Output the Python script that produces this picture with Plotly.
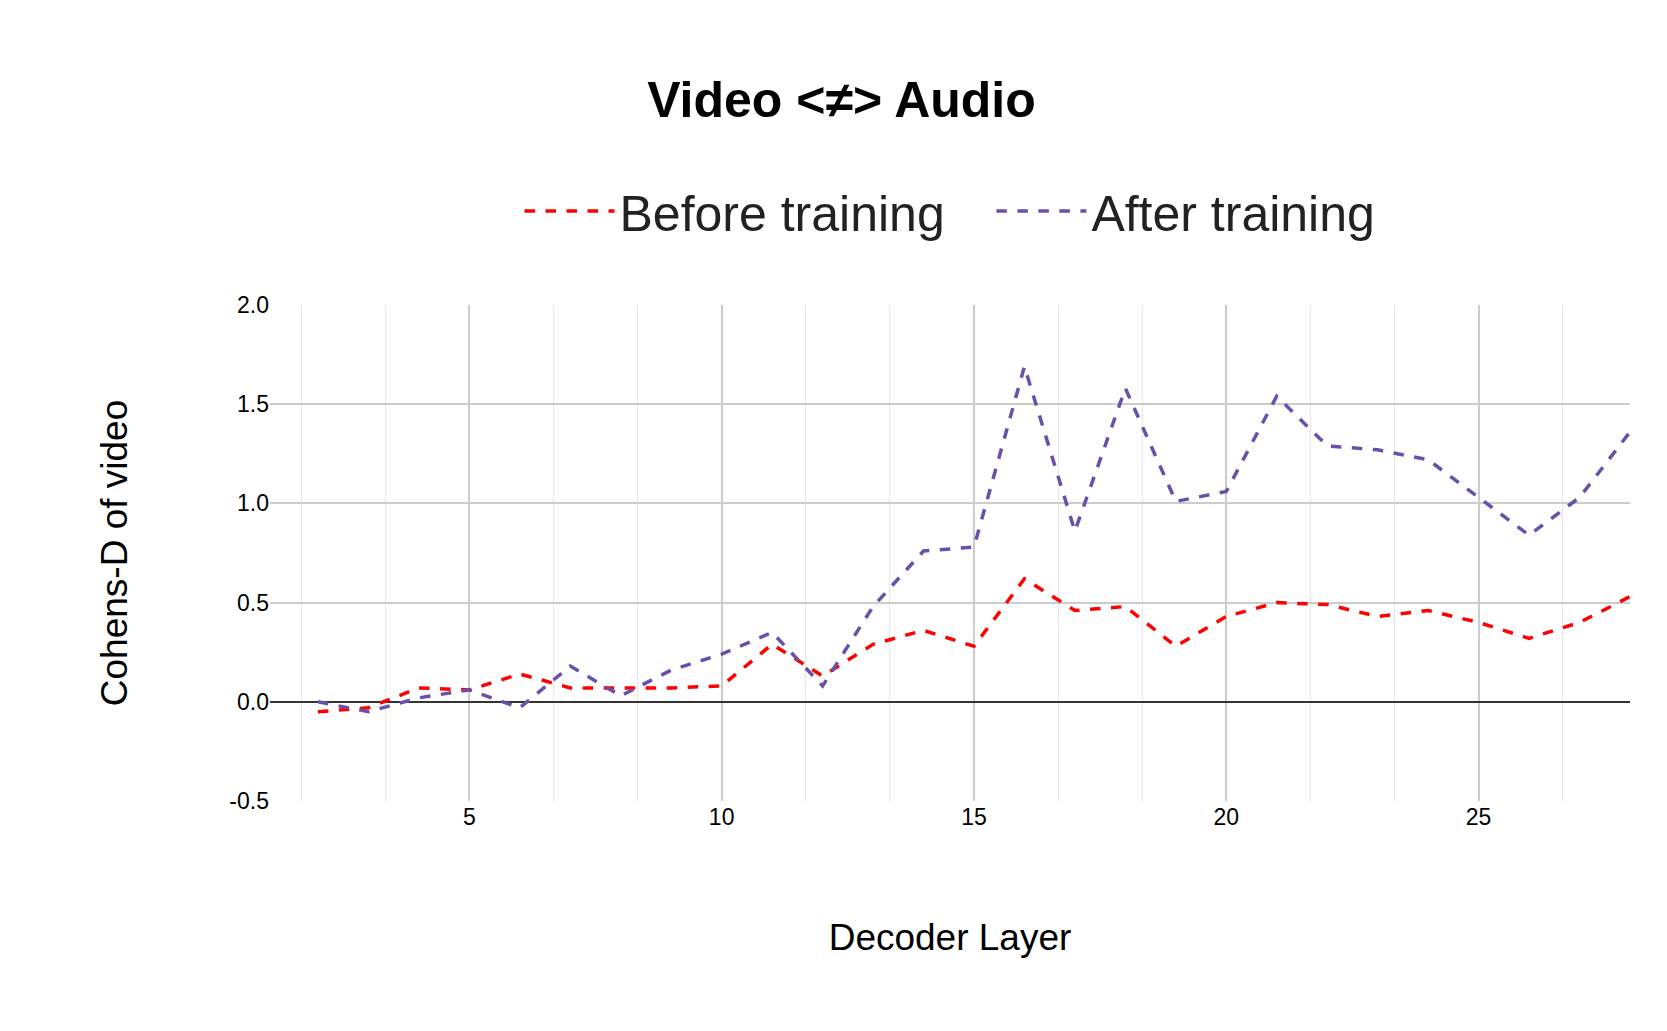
import plotly.graph_objects as go

layers = list(range(2, 29))
before = [-0.05,-0.03,0.07,0.06,0.14,0.07,0.07,0.07,0.08,0.29,0.13,0.29,0.36,0.28,0.62,0.46,0.48,0.28,0.43,0.50,0.49,0.43,0.46,0.40,0.32,0.40,0.53]
after = [0.00,-0.05,0.02,0.06,-0.03,0.18,0.03,0.16,0.24,0.35,0.08,0.48,0.76,0.78,1.69,0.86,1.58,1.01,1.06,1.54,1.29,1.27,1.22,1.03,0.84,1.03,1.36]

fig = go.Figure()
fig.add_trace(go.Scatter(x=layers, y=before, mode="lines", name="Before training   ",
                         line=dict(color="#ff0000", width=3.5, dash="dash")))
fig.add_trace(go.Scatter(x=layers, y=after, mode="lines", name="After training",
                         line=dict(color="#6a4fad", width=3.5, dash="dash")))
fig.update_layout(
    width=1667, height=1031, plot_bgcolor="white", paper_bgcolor="white",
    font=dict(family="Liberation Sans, Arial", color="black"),
    margin=dict(l=262, r=45, t=297, b=238),
    title=dict(text="<b>Video <≠> Audio</b>", x=0.5, xanchor="center", y=1-91/1031, yanchor="middle",
               font=dict(size=50)),
    legend=dict(orientation="h", x=0.5, xanchor="center", y=1+(297-203)/496, yanchor="middle",
                font=dict(size=50, color="#222"), itemwidth=90),
    showlegend=True,
)
fig.update_xaxes(range=[1.05, 28], tickvals=[5,10,15,20,25], tickfont=dict(size=23),
                 showgrid=True, gridcolor="#cccccc", gridwidth=1.5, zeroline=False,
                 minor=dict(tick0=5, dtick=5/3, showgrid=True, gridcolor="#e6e6e6", gridwidth=1),
                 title=dict(text="Decoder Layer", font=dict(size=37), standoff=95), ticks="")
fig.update_yaxes(range=[-0.5, 2.0], tickvals=[-0.5,0,0.5,1,1.5,2],
                 ticktext=["-0.5","0.0","0.5","1.0","1.5","2.0"], tickfont=dict(size=23),
                 showgrid=True, gridcolor="#cccccc", gridwidth=1.5,
                 zeroline=True, zerolinecolor="#333", zerolinewidth=1.5,
                 title=dict(text="Cohens-D of video", font=dict(size=37), standoff=90), ticks="")
fig.write_html("out.html")
